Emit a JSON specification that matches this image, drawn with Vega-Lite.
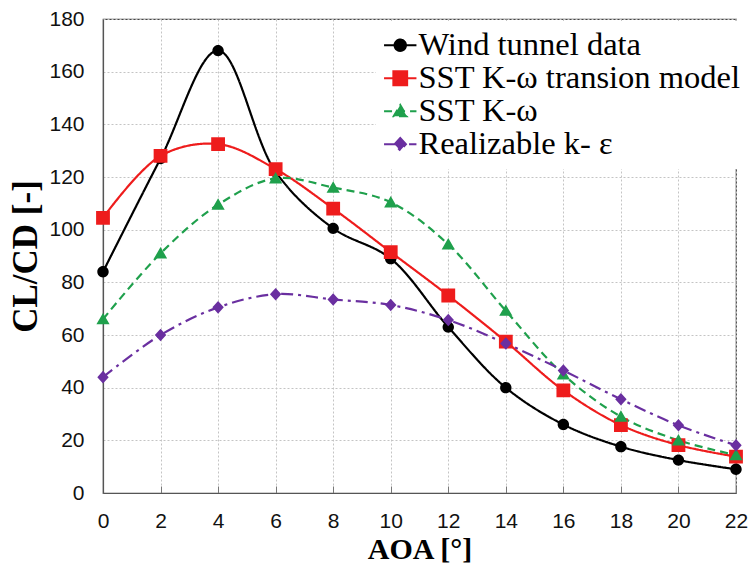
{
  "$schema": "https://vega.github.io/schema/vega-lite/v6.json",
  "width": 633,
  "height": 474,
  "autosize": {"type": "none"},
  "padding": {"left": 103, "top": 19, "right": 12, "bottom": 76},
  "background": "white",
  "config": {
    "view": {"stroke": "#444", "strokeWidth": 1.2},
    "axis": {
      "grid": true,
      "gridColor": "#c4c4c4",
      "gridDash": [2, 2],
      "gridWidth": 1,
      "domainColor": "#555",
      "domainWidth": 1.2,
      "labelFont": "Liberation Sans",
      "labelFontSize": 21,
      "labelColor": "#111",
      "titleFont": "Liberation Serif",
      "titleFontWeight": "bold",
      "titleColor": "#000"
    }
  },
  "data": {
    "values": [
      {"series": "Wind tunnel data", "aoa": 0, "ratio": 84},
      {"series": "Wind tunnel data", "aoa": 2, "ratio": 127},
      {"series": "Wind tunnel data", "aoa": 4, "ratio": 168},
      {"series": "Wind tunnel data", "aoa": 6, "ratio": 122},
      {"series": "Wind tunnel data", "aoa": 8, "ratio": 100.5},
      {"series": "Wind tunnel data", "aoa": 10, "ratio": 89},
      {"series": "Wind tunnel data", "aoa": 12, "ratio": 63},
      {"series": "Wind tunnel data", "aoa": 14, "ratio": 40},
      {"series": "Wind tunnel data", "aoa": 16, "ratio": 26},
      {"series": "Wind tunnel data", "aoa": 18, "ratio": 17.6},
      {"series": "Wind tunnel data", "aoa": 20, "ratio": 12.5},
      {"series": "Wind tunnel data", "aoa": 22, "ratio": 9},
      {"series": "SST K-ω transion model", "aoa": 0, "ratio": 104.5},
      {"series": "SST K-ω transion model", "aoa": 2, "ratio": 128},
      {"series": "SST K-ω transion model", "aoa": 4, "ratio": 132.5},
      {"series": "SST K-ω transion model", "aoa": 6, "ratio": 123},
      {"series": "SST K-ω transion model", "aoa": 8, "ratio": 108},
      {"series": "SST K-ω transion model", "aoa": 10, "ratio": 91.5},
      {"series": "SST K-ω transion model", "aoa": 12, "ratio": 75},
      {"series": "SST K-ω transion model", "aoa": 14, "ratio": 57.5},
      {"series": "SST K-ω transion model", "aoa": 16, "ratio": 39},
      {"series": "SST K-ω transion model", "aoa": 18, "ratio": 25.8},
      {"series": "SST K-ω transion model", "aoa": 20, "ratio": 18.2},
      {"series": "SST K-ω transion model", "aoa": 22, "ratio": 13.8},
      {"series": "SST K-ω", "aoa": 0, "ratio": 66},
      {"series": "SST K-ω", "aoa": 2, "ratio": 91},
      {"series": "SST K-ω", "aoa": 4, "ratio": 109.5},
      {"series": "SST K-ω", "aoa": 6, "ratio": 119.5},
      {"series": "SST K-ω", "aoa": 8, "ratio": 116},
      {"series": "SST K-ω", "aoa": 10, "ratio": 110.4},
      {"series": "SST K-ω", "aoa": 12, "ratio": 94.4},
      {"series": "SST K-ω", "aoa": 14, "ratio": 69.2},
      {"series": "SST K-ω", "aoa": 16, "ratio": 45},
      {"series": "SST K-ω", "aoa": 18, "ratio": 29},
      {"series": "SST K-ω", "aoa": 20, "ratio": 20},
      {"series": "SST K-ω", "aoa": 22, "ratio": 14.4},
      {"series": "Realizable k- ε", "aoa": 0, "ratio": 44},
      {"series": "Realizable k- ε", "aoa": 2, "ratio": 60},
      {"series": "Realizable k- ε", "aoa": 4, "ratio": 70.5},
      {"series": "Realizable k- ε", "aoa": 6, "ratio": 75.5},
      {"series": "Realizable k- ε", "aoa": 8, "ratio": 73.5},
      {"series": "Realizable k- ε", "aoa": 10, "ratio": 71.4},
      {"series": "Realizable k- ε", "aoa": 12, "ratio": 65.7},
      {"series": "Realizable k- ε", "aoa": 14, "ratio": 56.8},
      {"series": "Realizable k- ε", "aoa": 16, "ratio": 46.5},
      {"series": "Realizable k- ε", "aoa": 18, "ratio": 35.6},
      {"series": "Realizable k- ε", "aoa": 20, "ratio": 25.7},
      {"series": "Realizable k- ε", "aoa": 22, "ratio": 18.1}
    ]
  },
  "encoding": {
    "x": {
      "field": "aoa",
      "type": "quantitative",
      "scale": {"domain": [0, 22], "nice": false},
      "axis": {
        "title": "AOA [°]",
        "titleFontSize": 30,
        "titlePadding": 3,
        "values": [0, 2, 4, 6, 8, 10, 12, 14, 16, 18, 20, 22],
        "tickSize": -7,
        "tickColor": "#777",
        "labelPadding": 24,
        "labelFlush": false
      }
    },
    "y": {
      "field": "ratio",
      "type": "quantitative",
      "scale": {"domain": [0, 180], "nice": false},
      "axis": {
        "title": "CL/CD [-]",
        "titleFontSize": 35,
        "titlePadding": 5,
        "values": [0, 20, 40, 60, 80, 100, 120, 140, 160, 180],
        "ticks": false,
        "labelPadding": 19,
        "labelFlush": false
      }
    },
    "color": {
      "field": "series",
      "type": "nominal",
      "scale": {
        "domain": ["Wind tunnel data", "SST K-ω transion model", "SST K-ω", "Realizable k- ε"],
        "range": ["#000000", "#ee1c1c", "#1fa04c", "#6a2fa0"]
      },
      "legend": {
        "title": null,
        "orient": "none",
        "legendX": 273,
        "legendY": 2,
        "padding": 8,
        "fillColor": "white",
        "labelFont": "Liberation Serif",
        "labelFontSize": 32.5,
        "labelColor": "#000",
        "labelOffset": 2,
        "symbolSize": 144,
        "rowPadding": -1.5,
        "labelLimit": 400,
        "encode": {
          "symbols": {
            "update": {
              "stroke": {"scale": "color", "field": "value"},
              "strokeWidth": {"value": 2},
              "strokeDash": {"scale": "strokeDash", "field": "value"},
              "opacity": {"value": 1}
            }
          }
        }
      }
    }
  },
  "layer": [
    {
      "mark": {"type": "line", "interpolate": "catmull-rom", "strokeWidth": 2.2},
      "encoding": {
        "strokeDash": {
          "field": "series",
          "type": "nominal",
          "scale": {
            "domain": ["Wind tunnel data", "SST K-ω transion model", "SST K-ω", "Realizable k- ε"],
            "range": [[1, 0], [1, 0], [8, 5], [12, 5, 3, 5]]
          },
          "legend": null
        }
      }
    },
    {
      "mark": {"type": "point", "filled": true, "opacity": 1, "size": 144, "strokeWidth": 0},
      "encoding": {
        "shape": {
          "field": "series",
          "type": "nominal",
          "scale": {
            "domain": ["Wind tunnel data", "SST K-ω transion model", "SST K-ω", "Realizable k- ε"],
            "range": [
              "M-2.7,0H2.7M0.95,0A0.95,0.95 0 1,1 -0.95,0A0.95,0.95 0 1,1 0.95,0Z",
              "M-2.7,0H2.7M-1.15,-1.15H1.15V1.15H-1.15Z",
              "M-2.7,0H2.7M0,-1.05L1.1,0.85L-1.1,0.85Z",
              "M-2.7,0H2.7M0,-1.05L0.95,0L0,1.05L-0.95,0Z"
            ]
          }
        }
      }
    }
  ]
}
